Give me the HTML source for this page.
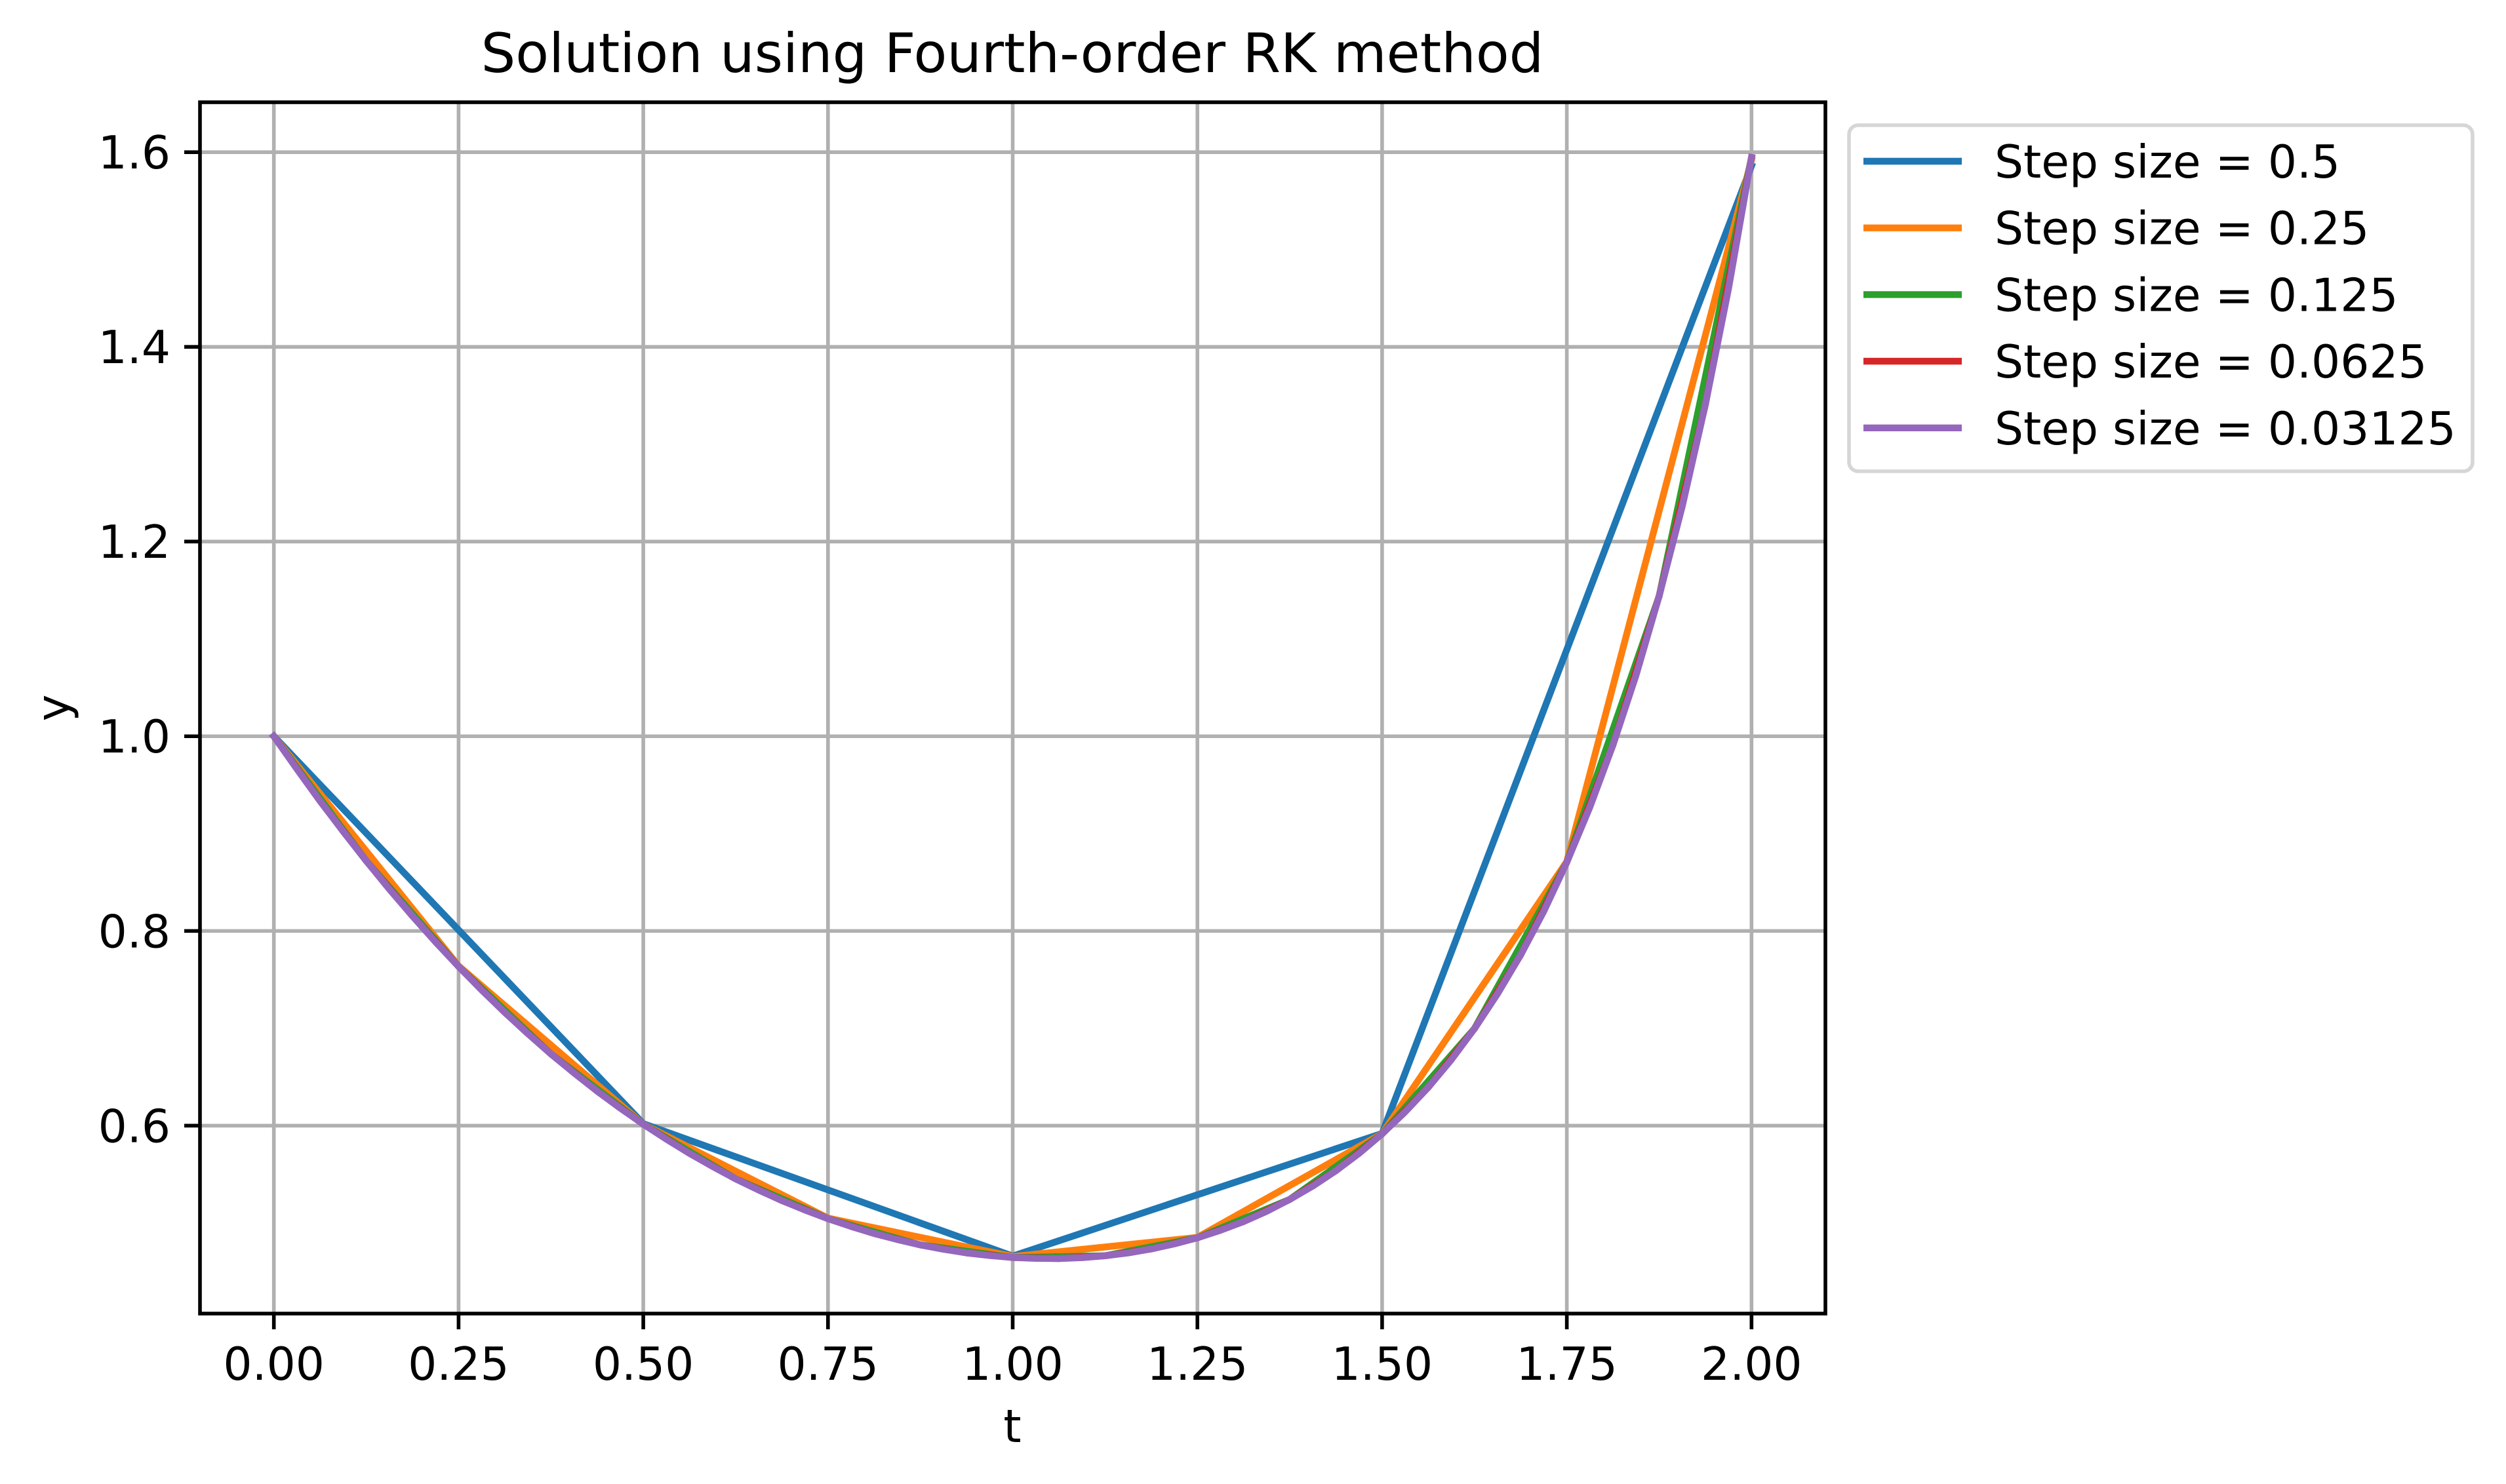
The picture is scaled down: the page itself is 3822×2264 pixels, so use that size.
<!DOCTYPE html>
<html><head><meta charset="utf-8"><style>
html,body{margin:0;padding:0;background:#fff;}
svg{display:block;font-family:"DejaVu Sans","Liberation Sans",sans-serif;}
</style></head><body>
<svg id="chart" width="3822" height="2264" viewBox="0 0 3822 2264" xmlns="http://www.w3.org/2000/svg">
<rect x="0" y="0" width="3822" height="2264" fill="#fff"/>
<g id="grid"></g>
<g id="series"></g>
<rect x="305" y="156" width="2479" height="1848" fill="none" stroke="#000" stroke-width="5.6"/>
<g id="ticks"></g>
<text x="1544" y="110" font-size="83" text-anchor="middle">Solution using Fourth-order RK method</text>
<text x="1544" y="2200" font-size="69.4" text-anchor="middle">t</text>
<text transform="translate(105,1080) rotate(-90)" font-size="69.4" text-anchor="middle">y</text>
<g id="legend">
<rect x="2820" y="191" width="2950" height="528" rx="14" fill="#fff" fill-opacity="0.8" stroke="#d6d6d6" stroke-width="5.6" style="width:951px"/>
</g>
</svg>
<script>
const xTicks = [0, 0.25, 0.5, 0.75, 1.0, 1.25, 1.5, 1.75, 2.0];
const xTickLabels = ["0.00","0.25","0.50","0.75","1.00","1.25","1.50","1.75","2.00"];
const yTicks = [0.6, 0.8, 1.0, 1.2, 1.4, 1.6];
const yTickLabels = ["0.6","0.8","1.0","1.2","1.4","1.6"];
const seriesLabels = ["Step size = 0.5","Step size = 0.25","Step size = 0.125","Step size = 0.0625","Step size = 0.03125"];
const seriesColors = ["#1f77b4","#ff7f0e","#2ca02c","#d62728","#9467bd"];
const stepSizes = [0.5, 0.25, 0.125, 0.0625, 0.03125];
const y05 = [1.0, 0.602, 0.466, 0.592, 1.586];
const y025 = [1.0, 0.764, 0.6015, 0.505, 0.4655, 0.4852, 0.5918, 0.8712, 1.592];
const y0125 = [1.0, 0.8721, 0.7635, 0.6737, 0.6015, 0.5454, 0.5044, 0.4775, 0.4646, 0.4663, 0.4848, 0.5242, 0.5916, 0.6997, 0.8706, 1.1440, 1.5945];
const y00625 = [1.0, 0.9336, 0.8721, 0.8154, 0.7635, 0.7164, 0.6737, 0.6355, 0.6015, 0.5716, 0.5454, 0.5231, 0.5044, 0.4892, 0.4775, 0.4693, 0.4646, 0.4635, 0.4663, 0.4733, 0.4848, 0.5015, 0.5242, 0.5537, 0.5916, 0.6394, 0.6997, 0.7754, 0.8706, 0.9911, 1.1443, 1.3407, 1.5947];
const y003125 = [1.0, 0.9663, 0.9336, 0.9023, 0.8721, 0.8431, 0.8154, 0.7888, 0.7635, 0.7393, 0.7164, 0.6945, 0.6737, 0.6541, 0.6355, 0.6180, 0.6015, 0.5861, 0.5716, 0.5581, 0.5454, 0.5338, 0.5231, 0.5133, 0.5044, 0.4964, 0.4892, 0.4830, 0.4775, 0.4730, 0.4693, 0.4665, 0.4646, 0.4636, 0.4635, 0.4644, 0.4663, 0.4692, 0.4733, 0.4785, 0.4848, 0.4925, 0.5015, 0.5120, 0.5242, 0.5380, 0.5537, 0.5715, 0.5916, 0.6142, 0.6394, 0.6677, 0.6997, 0.7355, 0.7754, 0.8201, 0.8706, 0.9273, 0.9911, 1.0630, 1.1443, 1.2364, 1.3407, 1.4594, 1.5947];
const seriesValues = [y05, y025, y0125, y00625, y003125];

const NS = "http://www.w3.org/2000/svg";
const X0 = 305, X1 = 2784, Y0 = 156, Y1 = 2004;
const xMin = -0.1, xMax = 2.1, yMin = 0.40693, yMax = 1.65131;
function xs(v){ return X0 + (v - xMin) / (xMax - xMin) * (X1 - X0); }
function ys(v){ return Y1 - (v - yMin) / (yMax - yMin) * (Y1 - Y0); }
function mk(tag, attrs, parent){ const e = document.createElementNS(NS, tag); for (const k in attrs) e.setAttribute(k, attrs[k]); parent.appendChild(e); return e; }

const grid = document.getElementById('grid');
const ticks = document.getElementById('ticks');
xTicks.forEach((t, i) => {
  const x = xs(t);
  const g = mk('line', {x1:x, x2:x, y1:Y0, y2:Y1, stroke:'#b0b0b0', 'stroke-width':5.6}, grid);
  
  
  const tk = mk('line', {x1:x, x2:x, y1:Y1, y2:Y1+24, stroke:'#000', 'stroke-width':5.6}, ticks);
  
  
  const lb = mk('text', {x:x, y:2105, 'font-size':69.4, 'text-anchor':'middle'}, ticks);
  lb.textContent = xTickLabels[i];
  
  
});
yTicks.forEach((v, i) => {
  const y = ys(v);
  const g = mk('line', {x1:X0, x2:X1, y1:y, y2:y, stroke:'#b0b0b0', 'stroke-width':5.6}, grid);
  
  
  const tk = mk('line', {x1:X0-24, x2:X0, y1:y, y2:y, stroke:'#000', 'stroke-width':5.6}, ticks);
  
  
  const lb = mk('text', {x:X0-45, y:y+25, 'font-size':69.4, 'text-anchor':'end'}, ticks);
  lb.textContent = yTickLabels[i];
  
  
});

const series = document.getElementById('series');
seriesValues.forEach((vals, s) => {
  const pts = vals.map((v, i) => xs(i * stepSizes[s]).toFixed(1) + ',' + ys(v).toFixed(1)).join(' ');
  const pl = mk('polyline', {points:pts, fill:'none', stroke:seriesColors[s], 'stroke-width':10.4, 'stroke-linejoin':'round', 'stroke-linecap':'square'}, series);
  
  
});

const legend = document.getElementById('legend');
legend.querySelector('rect').setAttribute('width', 951);
seriesLabels.forEach((lab, s) => {
  const y = 246 + s * 101.7;
  const ln = mk('line', {x1:2842, x2:2992, y1:y, y2:y, stroke:seriesColors[s], 'stroke-width':10.4}, legend);
  
  
  const tx = mk('text', {x:3042, y:y+25, 'font-size':69.4}, legend);
  tx.textContent = lab;
  
  
});
</script>
</body></html>
